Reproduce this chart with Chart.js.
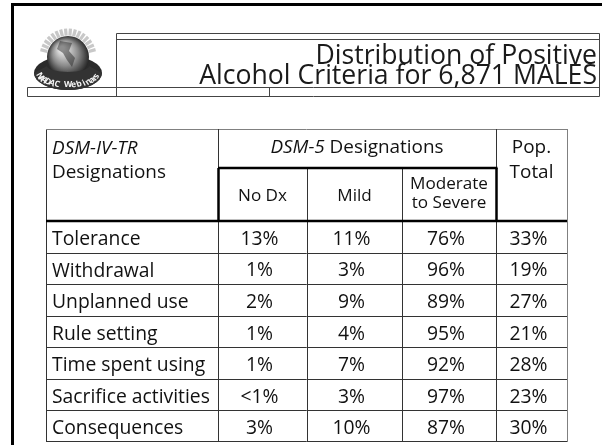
<!DOCTYPE html>
<html>
<head>
<meta charset="utf-8">
<script src="https://cdn.jsdelivr.net/npm/chart.js@4.4.1/dist/chart.umd.min.js"></script>
<style>
  html, body { margin: 0; padding: 0; background: #fff; }
  #wrap { width: 602px; height: 445px; }
</style>
</head>
<body>
<div id="wrap"><canvas id="chart" width="602" height="445"></canvas></div>
<script>
const titleLines = ["Distribution of Positive", "Alcohol Criteria for 6,871 MALES"];
const criteria = ["Tolerance", "Withdrawal", "Unplanned use", "Rule setting",
  "Time spent using", "Sacrifice activities", "Consequences"];
const noDx = [13, 1, 2, 1, 1, "<1", 3];
const mild = [11, 3, 9, 4, 7, 3, 10];
const moderateSevere = [76, 96, 89, 95, 92, 97, 87];
const popTotal = [33, 19, 27, 21, 28, 23, 30];
const seriesNames = ["No Dx", "Mild", "Moderate to Severe", "Pop. Total"];

// table layout (page pixels)
const colEdges = [46, 218, 307, 402, 496, 567];
const headTop = 129, subTop = 168, headBottom = 221;
const rowHeight = (442 - headBottom) / criteria.length;

const FONT = "'Open Sans', Lato, sans-serif";
const series = [noDx, mild, moderateSevere, popTotal];

const datasets = series.map((values, c) => ({
  label: seriesNames[c],
  data: values.map((v, r) => ({
    x: (colEdges[c + 1] + colEdges[c + 2]) / 2,
    y: headBottom + rowHeight * (r + 0.5),
    text: v + "%"
  })),
  pointRadius: 0,
  pointHoverRadius: 0
}));

// font size that makes `text` about `width` px wide
function fitSize(ctx, text, width, style) {
  ctx.font = (style || "") + " 100px " + FONT;
  return 100 * width / ctx.measureText(text).width;
}

function drawLogo(ctx, cx, cy) {
  ctx.save();
  // rays
  ctx.fillStyle = "#c8c8c8";
  for (let a = 195; a <= 345; a += 10) {
    const t = a * Math.PI / 180;
    ctx.save();
    ctx.translate(cx + Math.cos(t) * 25, cy + Math.sin(t) * 25);
    ctx.rotate(t + Math.PI / 2);
    ctx.fillRect(-1.6, -3.5, 3.2, 7);
    ctx.restore();
  }
  // brim, back
  ctx.fillStyle = "#2b2b2b";
  ctx.beginPath();
  ctx.ellipse(cx, cy + 16, 34, 17, 0, 0, Math.PI * 2);
  ctx.fill();
  // globe
  const g = ctx.createRadialGradient(cx - 6, cy - 9, 2, cx, cy, 22);
  g.addColorStop(0, "#f2f2f2");
  g.addColorStop(0.55, "#8a8a8a");
  g.addColorStop(1, "#1e1e1e");
  ctx.fillStyle = g;
  ctx.beginPath();
  ctx.arc(cx, cy, 21, 0, Math.PI * 2);
  ctx.fill();
  // rough continents
  ctx.fillStyle = "rgba(40,40,40,0.5)";
  ctx.beginPath();
  ctx.moveTo(cx - 8, cy - 16); ctx.lineTo(cx + 4, cy - 14); ctx.lineTo(cx + 1, cy - 6);
  ctx.lineTo(cx + 7, cy + 1); ctx.lineTo(cx + 4, cy + 10); ctx.lineTo(cx - 1, cy + 3);
  ctx.lineTo(cx - 5, cy - 4); ctx.lineTo(cx - 11, cy - 8); ctx.closePath();
  ctx.fill();
  // brim, front band
  ctx.fillStyle = "#333";
  ctx.beginPath();
  ctx.ellipse(cx, cy + 16, 34, 17, 0, 0, Math.PI);
  ctx.ellipse(cx, cy + 9, 21, 6, 0, Math.PI, 0, true);
  ctx.closePath();
  ctx.fill();
  // curved label
  const label = "NAADAC Webinars";
  ctx.fillStyle = "#f4f4f4";
  ctx.font = "bold 8.5px " + FONT;
  ctx.textAlign = "center";
  ctx.textBaseline = "middle";
  const start = 168, end = 12;
  for (let i = 0; i < label.length; i++) {
    const t = (start + (end - start) * i / (label.length - 1)) * Math.PI / 180;
    ctx.save();
    ctx.translate(cx + Math.cos(t) * 29, cy + 17 + Math.sin(t) * 11);
    ctx.rotate((t - Math.PI / 2) * 0.8);
    ctx.fillText(label[i], 0, 0);
    ctx.restore();
  }
  ctx.restore();
}

const tablePlugin = {
  id: "tablePlugin",
  beforeDatasetsDraw(chart) {
    const ctx = chart.ctx;
    const xs = chart.scales.x, ys = chart.scales.y;
    const px = v => xs.getPixelForValue(v);
    const py = v => ys.getPixelForValue(v);
    const line = (x1, y1, x2, y2, w, color) => {
      ctx.beginPath();
      ctx.lineWidth = w;
      ctx.strokeStyle = color;
      ctx.moveTo(px(x1), py(y1));
      ctx.lineTo(px(x2), py(y2));
      ctx.stroke();
    };
    ctx.save();
    ctx.fillStyle = "#fff";
    ctx.fillRect(0, 0, chart.width, chart.height);

    // slide frame
    ctx.lineWidth = 3;
    ctx.strokeStyle = "#000";
    ctx.beginPath();
    ctx.moveTo(px(12.5), py(445));
    ctx.lineTo(px(12.5), py(4.5));
    ctx.lineTo(px(602), py(4.5));
    ctx.stroke();

    // title box
    const tc = "#444";
    line(116.5, 33.5, 599.5, 33.5, 1, tc);
    line(116.5, 39.5, 599.5, 39.5, 1, tc);
    line(116.5, 33.5, 116.5, 96.5, 1, tc);
    line(599.5, 33.5, 599.5, 96.5, 1, tc);
    line(27.5, 87.5, 599.5, 87.5, 1, tc);
    line(27.5, 96.5, 599.5, 96.5, 1, tc);
    line(27.5, 87.5, 27.5, 96.5, 1, tc);
    line(269.5, 87.5, 269.5, 96.5, 1, tc);

    drawLogo(ctx, px(68), py(57));

    ctx.fillStyle = "#1a1a1a";
    ctx.textAlign = "right";
    ctx.textBaseline = "alphabetic";
    ctx.font = fitSize(ctx, titleLines[1], 398) + "px " + FONT;
    ctx.fillText(titleLines[0], px(597), py(64));
    ctx.fillText(titleLines[1], px(597), py(84));

    // table grid
    const thin = "#333", edge = "#808080";
    const bottom = headBottom + rowHeight * criteria.length;
    for (let r = 1; r < criteria.length; r++) {
      const y = Math.round(headBottom + rowHeight * r) + 0.5;
      line(colEdges[0], y, colEdges[5], y, 1, thin);
    }
    line(colEdges[0], bottom - 0.5, colEdges[5], bottom - 0.5, 1, thin);
    line(colEdges[0] + 0.5, headTop, colEdges[0] + 0.5, bottom, 1, thin);
    line(colEdges[0], headTop + 0.5, colEdges[5], headTop + 0.5, 1, edge);
    line(colEdges[5] + 0.5, headTop, colEdges[5] + 0.5, bottom, 1, edge);
    [1, 4].forEach(i => line(colEdges[i] + 0.5, headTop, colEdges[i] + 0.5, bottom, 1, thin));
    [2, 3].forEach(i => line(colEdges[i] + 0.5, subTop, colEdges[i] + 0.5, bottom, 1, thin));
    // heavy rules round the DSM-5 sub header
    line(colEdges[1] + 0.5, subTop, colEdges[1] + 0.5, headBottom, 2.5, "#000");
    line(colEdges[4] + 0.5, subTop, colEdges[4] + 0.5, headBottom, 2.5, "#000");
    line(colEdges[1], subTop, colEdges[4] + 1.5, subTop, 2.5, "#000");
    line(colEdges[0], headBottom, colEdges[5], headBottom, 2.5, "#000");

    // header text
    const headSize = fitSize(ctx, "Designations", 114);
    const head = headSize + "px " + FONT;
    const headIt = "italic " + headSize + "px " + FONT;
    ctx.fillStyle = "#111";
    ctx.textAlign = "left";
    ctx.font = headIt;
    ctx.fillText("DSM-IV-TR", px(52), py(154));
    ctx.font = head;
    ctx.fillText("Designations", px(52), py(178));

    ctx.font = headIt;
    const a = "DSM-5";
    const wa = ctx.measureText(a).width;
    ctx.font = head;
    const b = " Designations";
    const wb = ctx.measureText(b).width;
    const mid = (colEdges[1] + colEdges[4]) / 2;
    const x0 = px(mid) - (wa + wb) / 2;
    ctx.font = headIt;
    ctx.fillText(a, x0, py(153));
    ctx.font = head;
    ctx.fillText(b, x0 + wa, py(153));

    ctx.textAlign = "center";
    const popMid = px((colEdges[4] + colEdges[5]) / 2);
    ctx.fillText("Pop.", popMid, py(153));
    ctx.fillText("Total", popMid, py(178));

    ctx.font = fitSize(ctx, "Moderate", 78) + "px " + FONT;
    ctx.fillText("No Dx", px((colEdges[1] + colEdges[2]) / 2), py(201));
    ctx.fillText("Mild", px((colEdges[2] + colEdges[3]) / 2), py(201));
    ctx.fillText("Moderate", px((colEdges[3] + colEdges[4]) / 2), py(189));
    ctx.fillText("to Severe", px((colEdges[3] + colEdges[4]) / 2), py(208));

    // row labels
    ctx.textAlign = "left";
    ctx.font = fitSize(ctx, "Sacrifice activities", 158) + "px " + FONT;
    criteria.forEach((name, r) => {
      ctx.fillText(name, px(52), py(headBottom + rowHeight * r + 24));
    });
    ctx.restore();
  },
  afterDatasetsDraw(chart) {
    const ctx = chart.ctx;
    ctx.save();
    ctx.fillStyle = "#111";
    ctx.font = fitSize(ctx, "Sacrifice activities", 158) + "px " + FONT;
    ctx.textAlign = "center";
    ctx.textBaseline = "alphabetic";
    chart.data.datasets.forEach((ds, i) => {
      chart.getDatasetMeta(i).data.forEach((pt, j) => {
        ctx.fillText(ds.data[j].text, pt.x - 3, pt.y + 8);
      });
    });
    ctx.restore();
  }
};

new Chart(document.getElementById("chart"), {
  type: "scatter",
  data: { datasets },
  options: {
    responsive: false,
    animation: false,
    devicePixelRatio: 1,
    layout: { padding: 0 },
    plugins: { legend: { display: false }, tooltip: { enabled: false } },
    events: [],
    scales: {
      x: { type: "linear", min: 0, max: 602, display: false },
      y: { type: "linear", min: 0, max: 445, reverse: true, display: false }
    }
  },
  plugins: [tablePlugin]
});
</script>
</body>
</html>
